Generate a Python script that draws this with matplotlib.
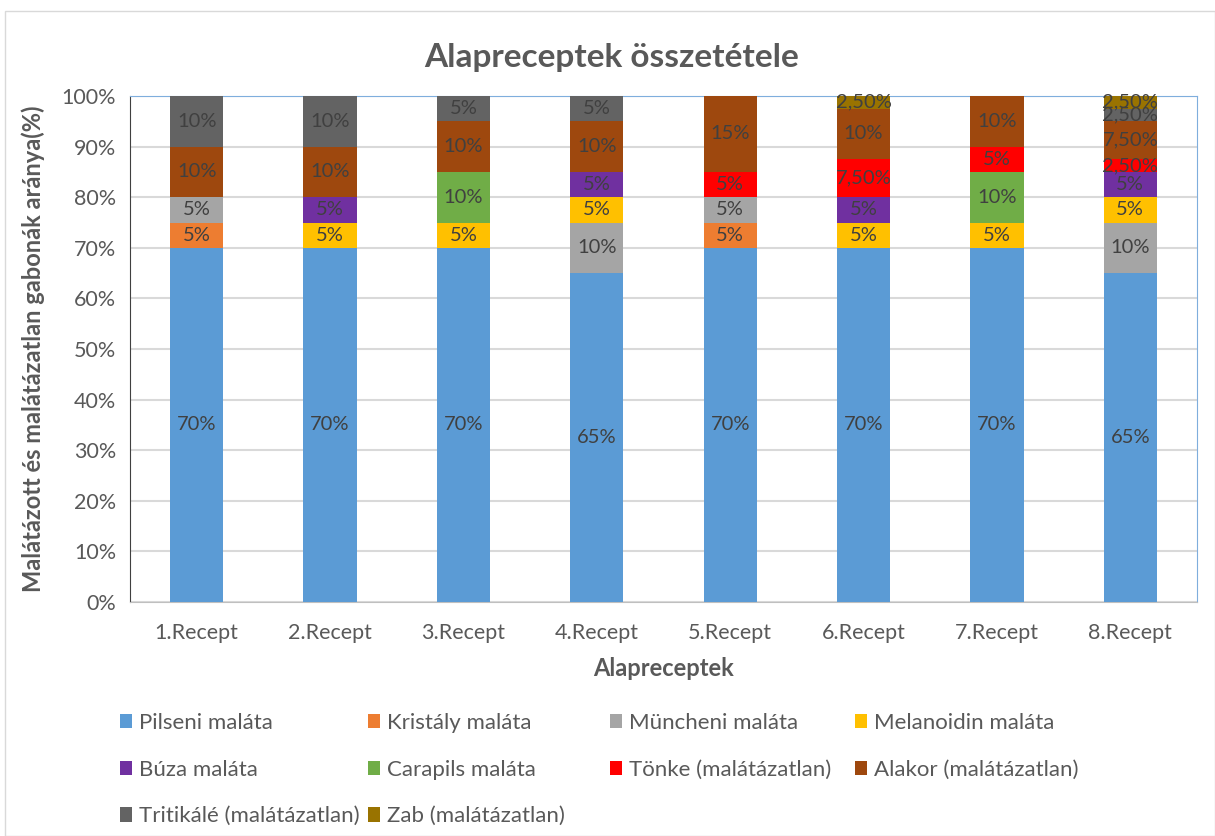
import matplotlib
matplotlib.use('Agg')

import numpy as np
import matplotlib.pyplot as plt
from matplotlib.patches import Rectangle

recepts = ["1.Recept", "2.Recept", "3.Recept", "4.Recept",
           "5.Recept", "6.Recept", "7.Recept", "8.Recept"]

series = ["Pilseni maláta", "Kristály maláta", "Müncheni maláta", "Melanoidin maláta",
          "Búza maláta", "Carapils maláta", "Tönke (malátázatlan)", "Alakor (malátázatlan)",
          "Tritikálé (malátázatlan)", "Zab (malátázatlan)"]

pilseni    = [70, 70, 70, 65, 70, 70, 70, 65]
kristaly   = [5, 0, 0, 0, 5, 0, 0, 0]
muncheni   = [5, 0, 0, 10, 5, 0, 0, 10]
melanoidin = [0, 5, 5, 5, 0, 5, 5, 5]
buza       = [0, 5, 0, 5, 0, 5, 0, 5]
carapils   = [0, 0, 10, 0, 0, 0, 10, 0]
tonke      = [0, 0, 0, 0, 5, 7.5, 5, 2.5]
alakor     = [10, 10, 10, 10, 15, 10, 10, 7.5]
tritikale  = [10, 10, 5, 5, 0, 0, 0, 2.5]
zab        = [0, 0, 0, 0, 0, 2.5, 0, 2.5]

colors = ["#5B9BD5", "#ED7D31", "#A5A5A5", "#FFC000", "#7030A0",
          "#70AD47", "#FF0000", "#9E480E", "#636363", "#997300"]

data = [pilseni, kristaly, muncheni, melanoidin, buza,
        carapils, tonke, alakor, tritikale, zab]

plt.rcParams['font.family'] = ['Lato', 'DejaVu Sans']
txt = "#595959"
W, H = 1215, 836

fig = plt.figure(figsize=(W / 100, H / 100), dpi=100)
fig.patches.append(Rectangle((5 / W, 0), 1 - 5 / W, 1 - 11 / H,
                             transform=fig.transFigure, fill=False,
                             edgecolor="#D9D9D9", linewidth=1))
ax = fig.add_axes([130 / W, 1 - 602 / H, (1197 - 130) / W, (602 - 96) / H])

x = np.arange(len(recepts))
bottom = np.zeros(len(recepts))
handles = []
for name, vals, col in zip(series, data, colors):
    vals = np.array(vals, dtype=float)
    b = ax.bar(x, vals, 0.4, bottom=bottom, color=col, label=name, zorder=3)
    handles.append(b)
    for xi, v, bo in zip(x, vals, bottom):
        if v <= 0:
            continue
        lab = f"{int(v)}%" if v == int(v) else f"{v:.2f}".replace(".", ",") + "%"
        ax.text(xi, bo + v / 2, lab, ha="center", va="center",
                fontsize=14.5, color="#404040", zorder=4)
    bottom += vals

ax.set_xlim(-0.5, len(recepts) - 0.5)
ax.set_ylim(0, 100)
ax.set_yticks(np.arange(0, 101, 10))
ax.set_yticklabels([f"{t}%" for t in range(0, 101, 10)])
ax.set_xticks(x)
ax.set_xticklabels(recepts)
ax.tick_params(axis="both", labelsize=15.5, colors=txt, length=0)
ax.tick_params(axis="x", pad=15)
ax.tick_params(axis="y", pad=10)
ax.yaxis.grid(True, color="#D9D9D9", linewidth=1.5, zorder=0)
ax.set_axisbelow(True)
for s in ["top", "right"]:
    ax.spines[s].set_color("#7FAEDD")
ax.spines["bottom"].set_color("#BFBFBF")
ax.spines["left"].set_color("#404040")

fig.text(0.503, 1 - 57 / H, "Alapreceptek összetétele", fontsize=24, fontweight="bold",
         color=txt, ha="center", va="center")
ax.set_xlabel("Alapreceptek", fontsize=17, fontweight="bold", color=txt, labelpad=10)
ax.set_ylabel("Malátázott és malátázatlan gabonák aránya(%)", fontsize=17,
              fontweight="bold", color=txt, labelpad=12)

# legend: 4 fixed-width columns, filled row by row like the reference
col_x = [100, 348, 590, 835]
for c, cx in enumerate(col_x):
    idx = list(range(c, len(series), 4))
    fig.legend(handles=[handles[i] for i in idx], loc="upper left",
               bbox_to_anchor=(cx / W, 1 - 693 / H),
               ncol=1, frameon=False, fontsize=16, handlelength=0.55, handleheight=0.6,
               handletextpad=0.3, labelspacing=1.2, labelcolor=txt)

fig.savefig("out.png", dpi=100)
